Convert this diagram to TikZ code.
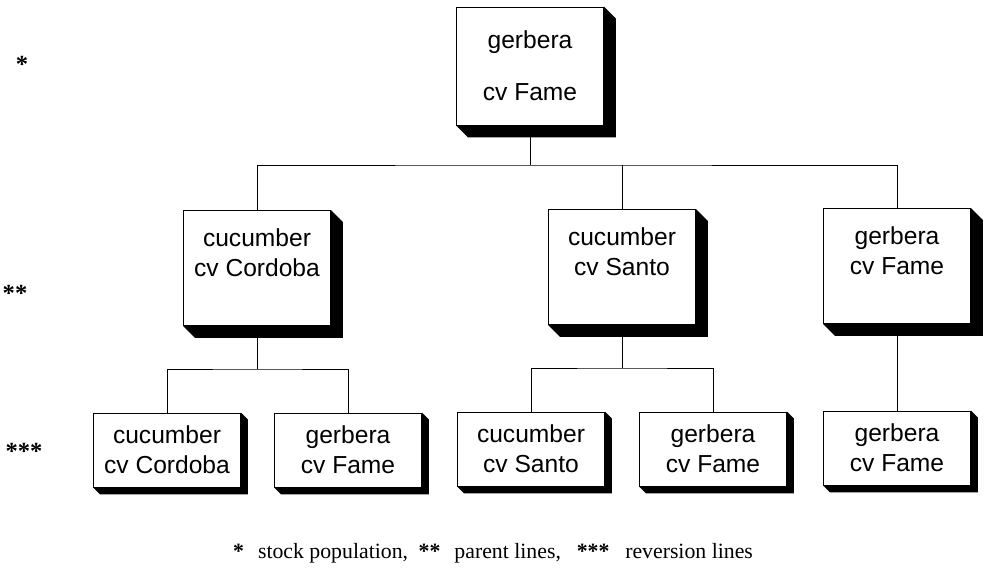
\documentclass[tikz,border=0pt]{standalone}
\usepackage{fontspec}
\setmainfont{Liberation Serif}
\newfontfamily\boxfont{Liberation Sans}
\usetikzlibrary{positioning, calc}

\begin{document}
\begin{tikzpicture}[x=0.02cm, y=-0.02cm,
    plant/.style={draw, line width=0.5pt, fill=white, inner sep=0pt, minimum width=2.94cm, align=center, font=\boxfont\fontsize{14}{17}\selectfont},
    parent/.style={plant, minimum height=2.3cm, text depth=0.6cm},
    revert/.style={plant, minimum height=1.48cm},
    star/.style={anchor=base, font=\bfseries\fontsize{14}{16}\selectfont}]
    \useasboundingbox (0,0) rectangle (987,582);

    \node[plant, minimum height=2.36cm] (stock) at (530,66) {gerbera\\[0.45cm]cv Fame};

    \node[parent] (pCor) at (257,268) {cucumber\\cv Cordoba};
    \node[parent] (pSan) at (622,267) {cucumber\\cv Santo};
    \node[parent] (pFam) at (897,266) {gerbera\\cv Fame};

    \node[revert] (rCorC) at (167,450) {cucumber\\cv Cordoba};
    \node[revert] (rCorG) at (348,450) {gerbera\\cv Fame};
    \node[revert] (rSanC) at (531,449) {cucumber\\cv Santo};
    \node[revert] (rSanG) at (713,449) {gerbera\\cv Fame};
    \node[revert] (rFam) at (897,448) {gerbera\\cv Fame};

    \foreach \nm/\sh in {stock/12, pCor/12, pSan/12, pFam/12, rCorC/7, rCorG/7, rSanC/7, rSanG/7, rFam/7}
        \fill (\nm.south west) -- ++(\sh,\sh) -- ($(\nm.south east)+(\sh,\sh)$) -- ($(\nm.north east)+(\sh,\sh)$) -- (\nm.north east) -- (\nm.south east) -- cycle;

    \coordinate (jTop) at (530,165);
    \draw (stock.south) -- (jTop);
    \draw (pCor.north) |- (jTop) -| (pFam.north);
    \draw (pSan.north) -- (pSan.north |- jTop);

    \coordinate (jCor) at (257,369);
    \draw (pCor.south) -- (jCor);
    \draw (rCorC.north) |- (jCor) -| (rCorG.north);
    \coordinate (jSan) at (622,368);
    \draw (pSan.south) -- (jSan);
    \draw (rSanC.north) |- (jSan) -| (rSanG.north);
    \draw (pFam.south) -- (rFam.north);

    \node[star] (sStock) at (22,72) {*};
    \node[star] (sParent) at (15,301) {**};
    \node[star] (sRevert) at (24,459) {***};

    \node[anchor=base, font=\fontsize{12.4}{14}\selectfont] (key) at (493,558) {{\bfseries *}\hspace{8pt}stock population,\hspace{6pt}{\bfseries **}\hspace{8pt}parent lines,\hspace{9pt}{\bfseries ***}\hspace{9pt}reversion lines};
\end{tikzpicture}
\end{document}
